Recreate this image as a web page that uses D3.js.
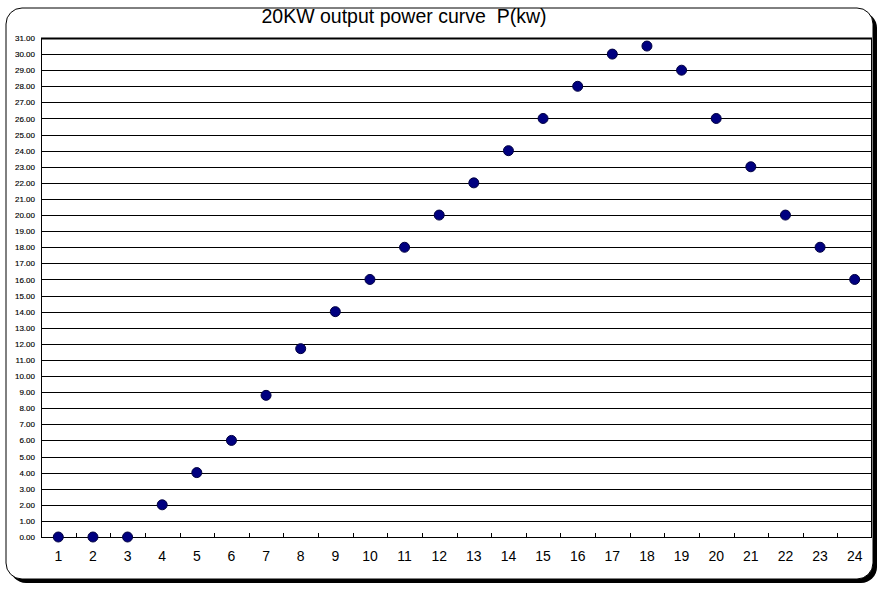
<!DOCTYPE html>
<html><head><meta charset="utf-8">
<script src="https://cdn.jsdelivr.net/npm/d3@7"></script>
<style>body{margin:0;background:#fff}svg{display:block}</style>
</head><body>
<svg id="c" width="885" height="592"></svg>
<script>
const categories = ["1","2","3","4","5","6","7","8","9","10","11","12","13","14","15","16","17","18","19","20","21","22","23","24"];
const powerValues = [0,0,0,2,4,6,8.8,11.7,14,16,18,20,22,24,26,28,30,30.5,29,26,23,20,18,16];
const yTicks = d3.range(0,32,1);
const titleText = "20KW output power curve  P(kw)";

(function(){
const svg = d3.select("#c");
// frame with shadow
const fx=6, fy=8, fw=867, fh=571, r=16;
svg.append("rect").attr("x",fx+4).attr("y",fy+4).attr("width",fw).attr("height",fh).attr("rx",r).attr("fill","#000");
svg.append("rect").attr("x",fx).attr("y",fy).attr("width",fw).attr("height",fh).attr("rx",r).attr("fill","#fff").attr("stroke","#000").attr("stroke-width",1);

const pL=41, pR=872, pT=38, pB=537;
const x = d3.scaleBand().domain(categories).range([pL,pR]);
const y = d3.scaleLinear().domain([0,31]).range([pB,pT]);

// gridlines
svg.append("g").selectAll("line").data(yTicks).join("line")
  .attr("x1",pL).attr("x2",pR)
  .attr("y1",d=>Math.round(y(d))+0.5).attr("y2",d=>Math.round(y(d))+0.5)
  .attr("stroke","#000").attr("stroke-width",d=>d===31?2:1);
svg.append("line").attr("x1",pL+0.5).attr("x2",pL+0.5).attr("y1",pT).attr("y2",pB+0.5).attr("stroke","#000");
svg.append("line").attr("x1",pR-0.5).attr("x2",pR-0.5).attr("y1",pT).attr("y2",pB+0.5).attr("stroke","#000");

// y labels
const yAxis = d3.axisLeft(y).tickValues(yTicks).tickFormat(d3.format(".2f")).tickSize(0).tickPadding(6);
const ya = svg.append("g").attr("transform",`translate(${pL},0)`).call(yAxis);
ya.select(".domain").remove();
ya.selectAll("text").attr("font-family","Arial, 'Liberation Sans', sans-serif").attr("font-size",8).attr("fill","#000").attr("stroke","#000").attr("stroke-width",0.15);

// x ticks at category boundaries, pointing up
const bounds = categories.slice(1).map(c=>x(c));
svg.append("g").selectAll("line").data(bounds).join("line")
  .attr("x1",d=>Math.round(d)+0.5).attr("x2",d=>Math.round(d)+0.5)
  .attr("y1",pB-4).attr("y2",pB+0.5).attr("stroke","#000");

// x labels
svg.append("g").selectAll("text").data(categories).join("text")
  .attr("x",d=>x(d)+x.bandwidth()/2).attr("y",561)
  .attr("text-anchor","middle").attr("font-family","Arial, 'Liberation Sans', sans-serif")
  .attr("font-size",14).attr("fill","#000").text(d=>d);

// points
svg.append("g").selectAll("circle").data(powerValues).join("circle")
  .attr("cx",(d,i)=>x(categories[i])+x.bandwidth()/2).attr("cy",d=>y(d))
  .attr("r",5).attr("fill","#000080").attr("stroke","#000040").attr("stroke-width",1);

// title
svg.append("text").attr("x",404).attr("y",23).attr("text-anchor","middle")
  .style("white-space","pre")
  .attr("font-family","Arial, 'Liberation Sans', sans-serif").attr("font-size",19.5).attr("fill","#000").text(titleText);
})();
</script>
</body></html>
